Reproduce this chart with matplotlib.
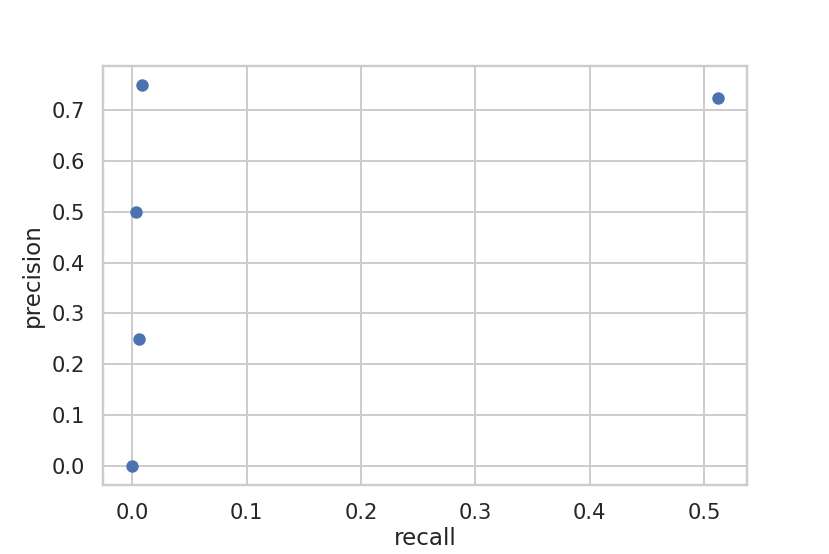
import matplotlib
matplotlib.use('Agg')
import matplotlib.pyplot as plt
import seaborn as sns

recall = [0.0, 0.0035, 0.006, 0.009, 0.512]
precision = [0.0, 0.5, 0.25, 0.75, 0.7237]

sns.set_theme(style='whitegrid')
plt.rcParams['font.family'] = ['DejaVu Sans']

# original looks like a 6x4 inch figure saved at ~138 dpi
fig = plt.figure(figsize=(6, 4.005), dpi=138.33)
ax = fig.add_axes([0.124, 0.1245, 0.776, 0.757])
ax.scatter(recall, precision, color='#4c72b0', s=30, zorder=3)

ax.set_xlabel('recall', fontsize=12, labelpad=2)
ax.set_ylabel('precision', fontsize=12)
ax.tick_params(labelsize=11)

fig.savefig('out.png', dpi=138.33)
